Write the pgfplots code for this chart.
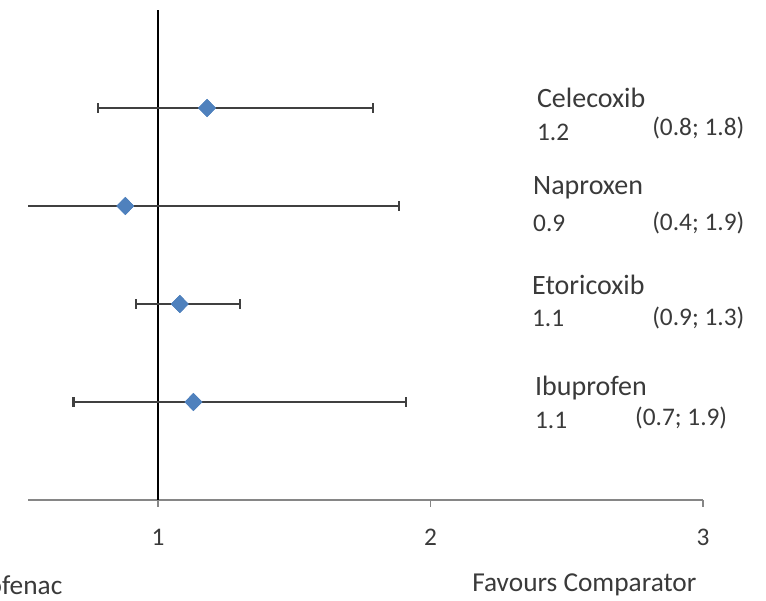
\documentclass[border=0pt]{standalone}
\usepackage{pgfplots}
\pgfplotsset{compat=1.18}
\usepackage{fontspec}
\setmainfont{Carlito}
\definecolor{bargray}{HTML}{404040}
\definecolor{axgray}{HTML}{868686}
\definecolor{txt}{HTML}{3A3A3A}
\definecolor{dblue}{HTML}{4F81BD}
\begin{document}
\begin{tikzpicture}
\useasboundingbox (-21pt,-75pt) rectangle (553.5pt,375pt);
\begin{axis}[
  scale only axis,
  width=506.25pt, height=367.5pt,
  at={(0pt,0pt)}, anchor=origin,
  xmin=0.5229, xmax=3, ymin=0, ymax=5,
  axis x line=bottom, axis y line=none,
  x axis line style={-, axgray, line width=1.2pt},
  xtick={1,2,3},
  xticklabels={1,2,3},
  tick align=outside,
  major tick length=5pt,
  tick style={axgray, line width=0.8pt},
  xticklabel style={font=\fontsize{19}{21}\selectfont, text=txt, anchor=center, yshift=-23pt},
  /pgf/number format/assume math mode=true,
  clip mode=individual,
]
\addplot[black, line width=1.2pt] coordinates {(1,0) (1,5)};
\addplot[
  only marks,
  mark=diamond*,
  mark size=6.5pt,
  mark options={fill=dblue, draw=dblue, xscale=1.3},
  error bars/.cd,
    x dir=both, x explicit,
    error bar style={bargray, line width=1.8pt},
    error mark options={bargray, line width=1.8pt, mark size=3.5pt, rotate=90},
] coordinates {
  (1.18,4) += (0.61,0) -= (0.40,0)
  (0.88,3) += (1.005,0) -= (0.48,0)
  (1.08,2) += (0.22,0) -= (0.16,0)
  (1.13,1) += (0.78,0) -= (0.44,0)
};
\addplot[only marks, mark=diamond*, mark size=6.5pt, mark options={fill=dblue, draw=dblue, xscale=1.3}] coordinates {(1.18,4) (0.88,3) (1.08,2) (1.13,1)};
\begin{scope}[every node/.style={font=\fontsize{19}{21}\selectfont, text=txt, anchor=west, inner sep=0pt}]
\node[font=\fontsize{21}{23}\selectfont] at (axis cs:2.390,4.102) {Celecoxib};
\node at (axis cs:2.390,3.755) {1.2};
\node at (axis cs:2.813,3.796) {(0.8; 1.8)};
\node[font=\fontsize{21}{23}\selectfont] at (axis cs:2.376,3.184) {Naproxen};
\node at (axis cs:2.376,2.827) {0.9};
\node at (axis cs:2.813,2.827) {(0.4; 1.9)};
\node[font=\fontsize{21}{23}\selectfont] at (axis cs:2.372,2.194) {Etoricoxib};
\node at (axis cs:2.372,1.857) {1.1};
\node at (axis cs:2.813,1.857) {(0.9; 1.3)};
\node[font=\fontsize{21}{23}\selectfont] at (axis cs:2.383,1.143) {Ibuprofen};
\node at (axis cs:2.383,0.816) {1.1};
\node at (axis cs:2.750,0.837) {(0.7; 1.9)};
\end{scope}
\end{axis}
\node[font=\fontsize{20.5}{22}\selectfont, text=txt, anchor=east, inner sep=0pt] at (26pt,-63.75pt) {Favours Diclofenac};
\node[font=\fontsize{20.5}{22}\selectfont, text=txt, anchor=west, inner sep=0pt] at (333pt,-63.75pt) {Favours Comparator};
\end{tikzpicture}
\end{document}
